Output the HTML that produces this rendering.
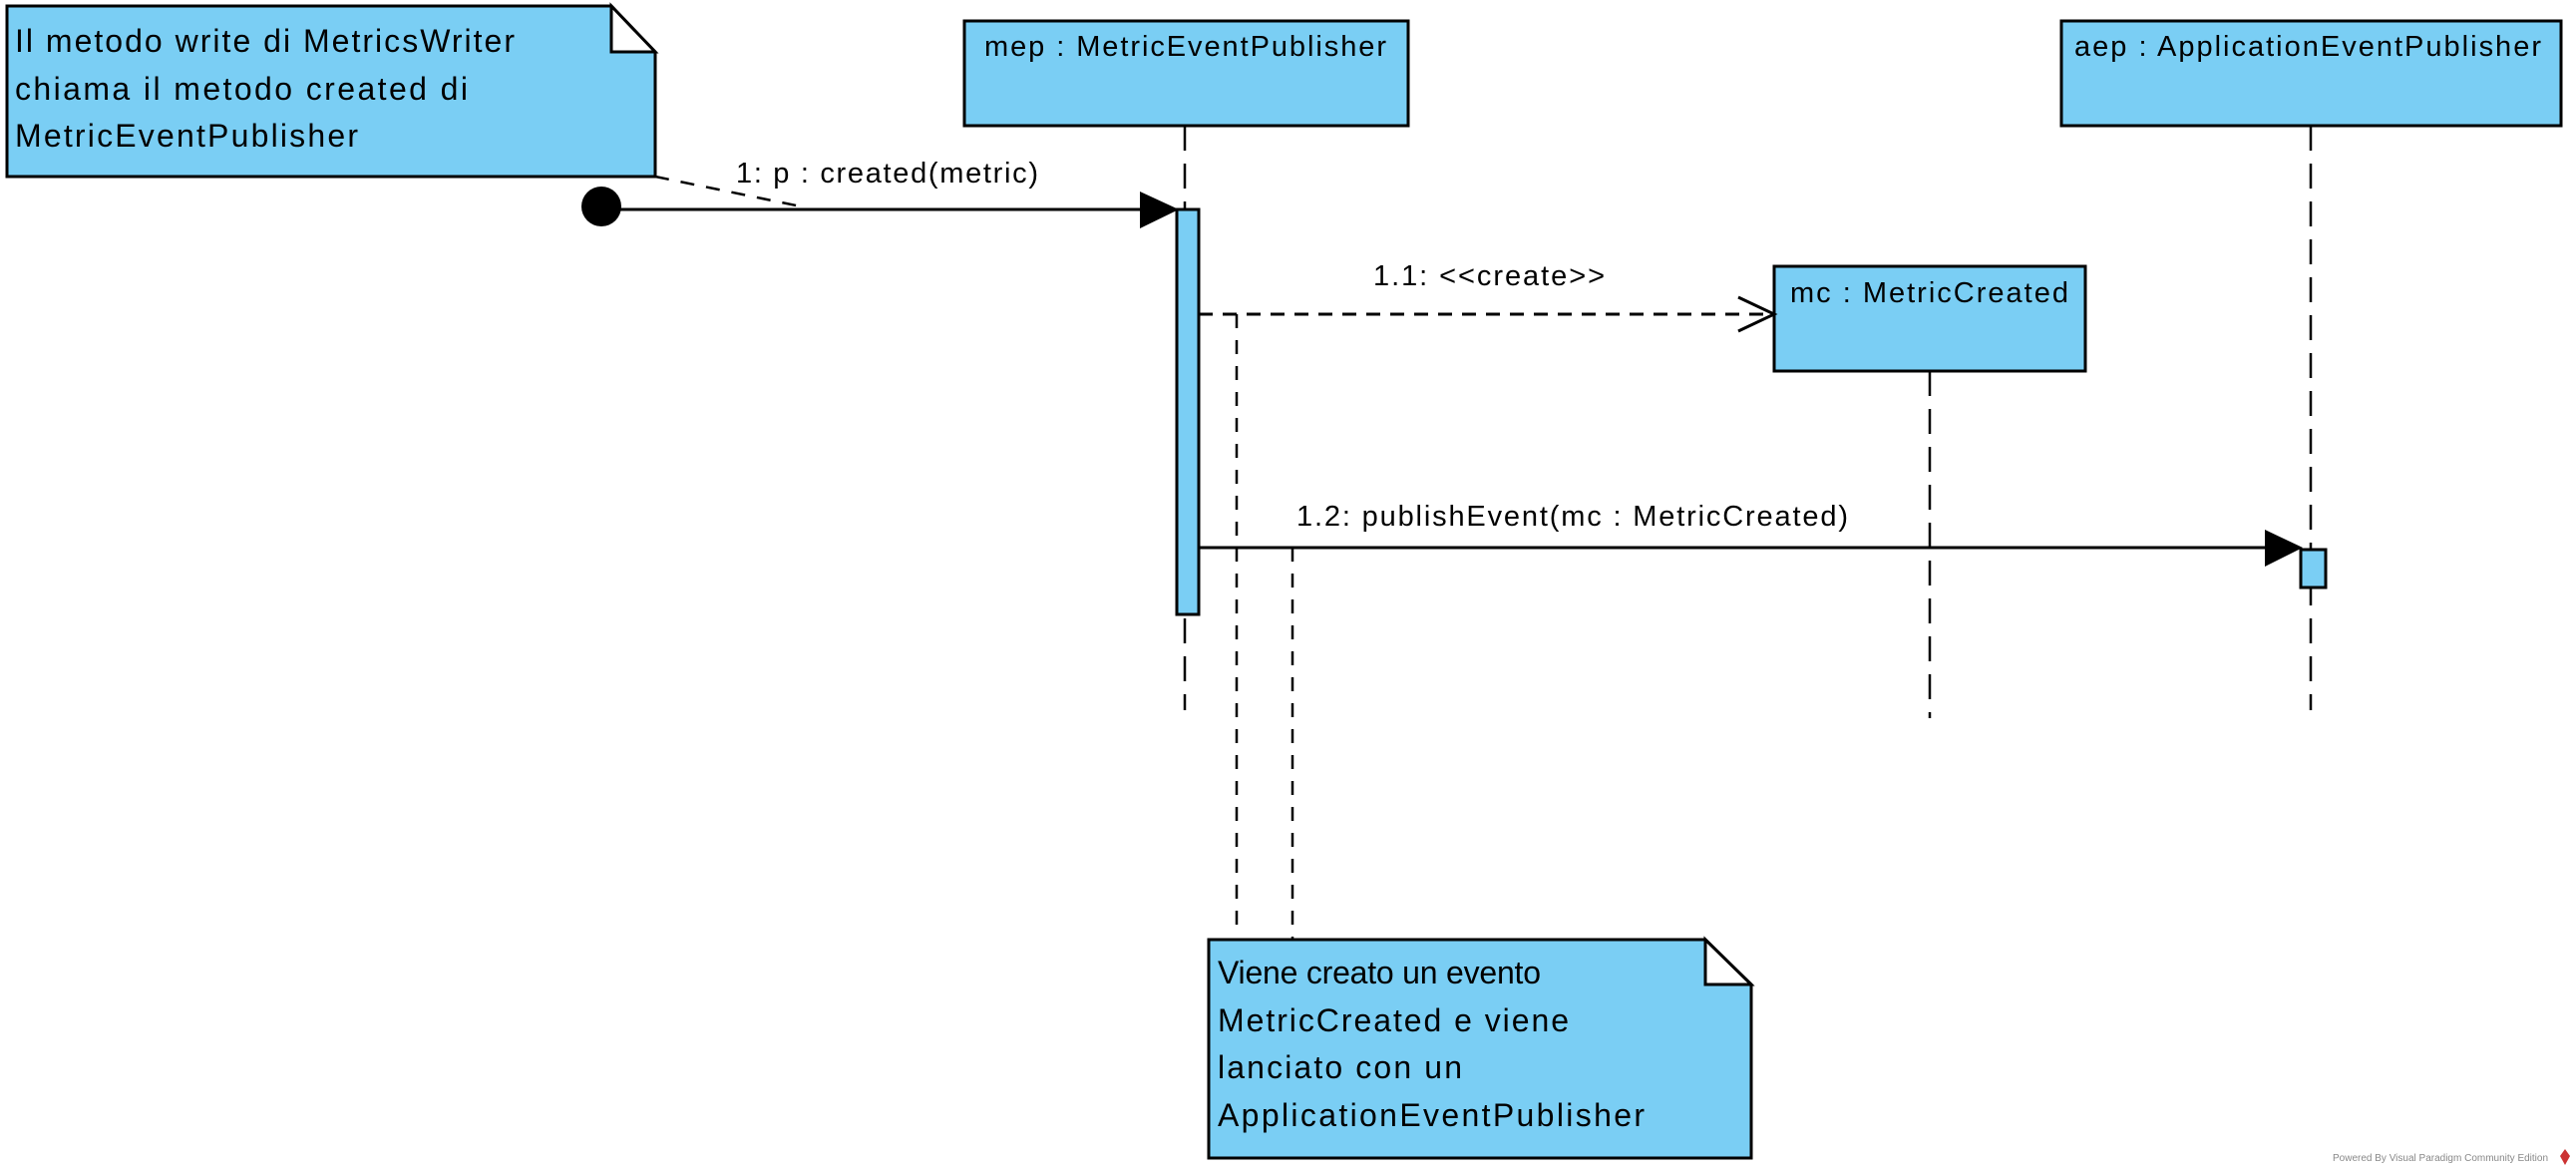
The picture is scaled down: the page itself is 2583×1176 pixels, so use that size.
<!DOCTYPE html>
<html><head><meta charset="utf-8"><style>
html,body{margin:0;padding:0;background:#fff;}
svg{display:block;}
text{font-family:"Liberation Sans",Arial,sans-serif;fill:#000;}
</style></head><body>
<svg width="2583" height="1176" viewBox="0 0 2583 1176" xmlns="http://www.w3.org/2000/svg">
<g stroke="#000" stroke-width="3" fill="#7ACEF4">
  <path d="M7 6 H613 L657 52 V177 H7 Z"/>
  <path d="M613 6 V52 H657 Z" fill="#fff"/>
  <rect x="967" y="21" width="445" height="105"/>
  <rect x="2067" y="21" width="501" height="105"/>
  <rect x="1779" y="267" width="312" height="105"/>
  <path d="M1212 942 H1710 L1756 987 V1161 H1212 Z"/>
  <path d="M1710 942 V987 H1756 Z" fill="#fff"/>
</g>
<g stroke="#000" stroke-width="2.5" fill="none" stroke-dasharray="25 13">
  <line x1="1188" y1="126" x2="1188" y2="712"/>
  <line x1="1935" y1="372" x2="1935" y2="720"/>
  <line x1="2317" y1="126" x2="2317" y2="712"/>
</g>
<g stroke="#000" stroke-width="2.5" fill="none" stroke-dasharray="14 12">
  <line x1="657" y1="177" x2="808" y2="208"/>
  <line x1="1240" y1="315" x2="1240" y2="935"/>
  <line x1="1296" y1="549" x2="1296" y2="942"/>
</g>
<rect x="1180" y="210" width="22" height="406" fill="#7ACEF4" stroke="#000" stroke-width="3"/>
<rect x="2307" y="551" width="25" height="38" fill="#7ACEF4" stroke="#000" stroke-width="3"/>
<circle cx="603" cy="207" r="20" fill="#000"/>
<line x1="620" y1="210" x2="1150" y2="210" stroke="#000" stroke-width="3"/>
<polygon points="1143,192 1182,210 1143,229" fill="#000"/>
<line x1="1202" y1="315" x2="1777" y2="315" stroke="#000" stroke-width="3" stroke-dasharray="14 10"/>
<polyline points="1743,298 1779,315 1743,332" fill="none" stroke="#000" stroke-width="3"/>
<line x1="1202" y1="549" x2="2280" y2="549" stroke="#000" stroke-width="3"/>
<polygon points="2271,531 2309,549 2271,568" fill="#000"/>
<g font-size="32">
  <text x="15" y="52" textLength="501" lengthAdjust="spacing">Il metodo write di MetricsWriter</text>
  <text x="15" y="100" textLength="454" lengthAdjust="spacing">chiama il metodo created di</text>
  <text x="15" y="147" textLength="344" lengthAdjust="spacing">MetricEventPublisher</text>
  <text x="1221" y="986" textLength="324" lengthAdjust="spacing">Viene creato un evento</text>
  <text x="1221" y="1034" textLength="352" lengthAdjust="spacing">MetricCreated e viene</text>
  <text x="1221" y="1081" textLength="245" lengthAdjust="spacing">lanciato con un</text>
  <text x="1221" y="1129" textLength="428" lengthAdjust="spacing">ApplicationEventPublisher</text>
</g>
<g font-size="29">
  <text x="987" y="56" textLength="403" lengthAdjust="spacing">mep : MetricEventPublisher</text>
  <text x="2080" y="56" textLength="468" lengthAdjust="spacing">aep : ApplicationEventPublisher</text>
  <text x="1795" y="303" textLength="279" lengthAdjust="spacing">mc : MetricCreated</text>
  <text x="738" y="183" textLength="303" lengthAdjust="spacing">1: p : created(metric)</text>
  <text x="1377" y="286" textLength="232" lengthAdjust="spacing">1.1: &lt;&lt;create&gt;&gt;</text>
  <text x="1300" y="527" textLength="553" lengthAdjust="spacing">1.2: publishEvent(mc : MetricCreated)</text>
</g>
<text x="2339" y="1164" font-size="10" style="fill:#888">Powered By  Visual Paradigm Community Edition</text>
<path d="M2572 1152 l5 7 -5 9 -5 -9 z" fill="#c33"/>
</svg>
</body></html>
